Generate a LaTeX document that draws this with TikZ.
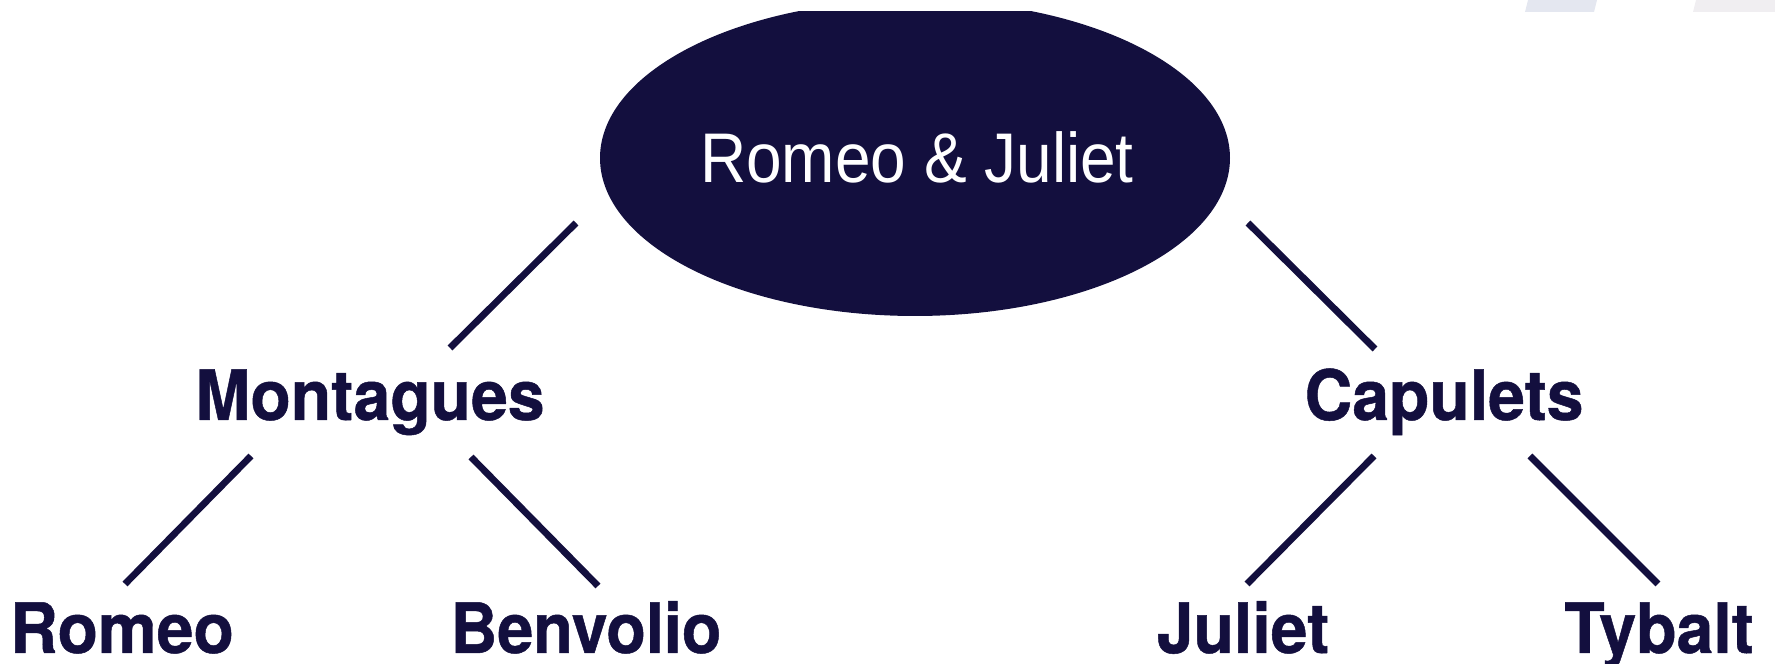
\documentclass[tikz,border=0pt]{standalone}
\usepackage{fontspec}
\setmainfont{Liberation Sans}
\newfontfamily\labelfont{TeX Gyre Heros}[BoldFeatures={FakeBold=0.7}]
\definecolor{navy}{HTML}{130F3E}
\definecolor{haze1}{HTML}{E4E7F0}
\definecolor{haze2}{HTML}{F0EEF1}
\newcommand{\squeeze}[1]{\scalebox{0.95}[1]{#1}}
\tikzset{
  family/.style={anchor=base, inner sep=0pt, text=navy,
    font=\labelfont\fontsize{19.8pt}{24pt}\selectfont\bfseries},
  title/.style={anchor=base, inner sep=0pt, text=white,
    font=\fontsize{20pt}{24pt}\selectfont},
  branch/.style={draw=navy, line width=0.68mm, line cap=butt}
}
\begin{document}
\begin{tikzpicture}[x=0.1mm, y=-0.1mm]
\useasboundingbox (0,0) rectangle (1775,664);

% faint strip along the top edge
\fill[haze1] (1528,0) -- (1597,0) -- (1594,12) -- (1525,12) -- cycle;
\fill[haze2] (1696,0) -- (1775,0) -- (1775,12) -- (1693,12) -- cycle;

% title ellipse, cut by the top strip
\begin{scope}
  \clip (0,12) rectangle (1775,664);
  \fill[navy] (915,158) ellipse [x radius=315, y radius=158];
\end{scope}
\node[title] (root) at (917,183) {\scalebox{0.91}[1]{Romeo \& Juliet}};

% families
\node[family] (mont) at (370,420) {\squeeze{Montagues}};
\node[family] (capu) at (1444,420) {\squeeze{Capulets}};

% members
\node[family] (romeo) at (122,653) {\squeeze{Romeo}};
\node[family] (benv) at (586,653) {\scalebox{0.93}[1]{Benvolio}};
\node[family] (juliet) at (1243,653) {\squeeze{Juliet}};
\node[family] (tybalt) at (1659,653) {\squeeze{Tybalt}};

% connector end points
\coordinate (root-l) at (576,223);
\coordinate (root-r) at (1248,223);
\coordinate (mont-up) at (450,348);
\coordinate (capu-up) at (1375,349);
\coordinate (mont-l) at (251,456);
\coordinate (mont-r) at (471,457);
\coordinate (capu-l) at (1374,456);
\coordinate (capu-r) at (1530,456);
\coordinate (romeo-up) at (125,584);
\coordinate (benv-up) at (598,586);
\coordinate (juliet-up) at (1247,584);
\coordinate (tybalt-up) at (1658,584);

\draw[branch] (root-l) -- (mont-up);
\draw[branch] (root-r) -- (capu-up);
\draw[branch] (mont-l) -- (romeo-up);
\draw[branch] (mont-r) -- (benv-up);
\draw[branch] (capu-l) -- (juliet-up);
\draw[branch] (capu-r) -- (tybalt-up);
\end{tikzpicture}
\end{document}
